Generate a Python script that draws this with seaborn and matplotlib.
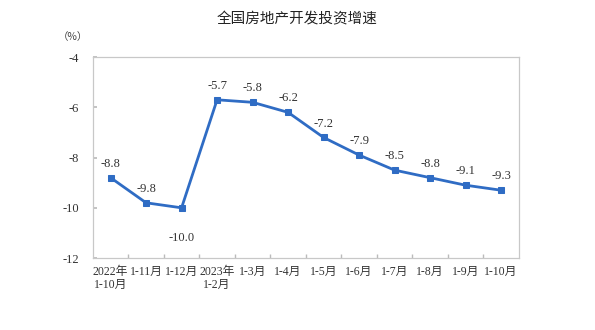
import matplotlib
matplotlib.use("Agg")
import matplotlib.pyplot as plt
import seaborn as sns
import pandas as pd

categories = ["2022年\n1-10月", "1-11月", "1-12月", "2023年\n1-2月", "1-3月", "1-4月",
              "1-5月", "1-6月", "1-7月", "1-8月", "1-9月", "1-10月"]
values = [-8.8, -9.8, -10.0, -5.7, -5.8, -6.2, -7.2, -7.9, -8.5, -8.8, -9.1, -9.3]
yticks = [-12, -10, -8, -6, -4]

sns.set_theme(style="white")
plt.rcParams['font.family'] = ['Liberation Serif', 'Noto Sans CJK SC', 'DejaVu Sans']

df = pd.DataFrame({"x": range(len(categories)), "v": values})

fig = plt.figure(figsize=(5.95, 3.3), dpi=100)
ax = fig.add_axes([0.156, 0.218, 0.716, 0.609])
color = "#2f6cc4"
sns.lineplot(data=df, x="x", y="v", ax=ax, color=color, linewidth=2.0,
             marker="s", markersize=4.5, markeredgecolor=color, markerfacecolor=color)

for i, v in enumerate(values):
    if i == 2:
        ax.annotate(f"{v:.1f}", (i, v), xytext=(0, -22), textcoords="offset points",
                    ha="center", va="center", fontsize=9, color="#333333")
    else:
        ax.annotate(f"{v:.1f}", (i, v), xytext=(0, 10), textcoords="offset points",
                    ha="center", va="center", fontsize=9, color="#333333")

ax.set_xlim(-0.5, len(categories) - 0.5)
ax.set_ylim(-12, -4)
ax.set_yticks(yticks)
ax.set_yticklabels([str(t) for t in yticks], fontsize=9, color="#333333")
ax.set_xticks(range(len(categories)))
ax.set_xticklabels(categories, fontsize=8.5, color="#333333", linespacing=1.1)
ax.set_xticks([i + 0.5 for i in range(len(categories) - 1)], minor=True)
ax.tick_params(axis="x", which="major", length=0, pad=6)
ax.tick_params(axis="x", which="minor", direction="in", length=3, color="#bbbbbb", bottom=True)
ax.tick_params(axis="y", direction="in", length=3, color="#bbbbbb", left=True, pad=10)
ax.set_xlabel("")
ax.set_ylabel("")
for s in ax.spines.values():
    s.set_color("#c8c8c8")
    s.set_linewidth(0.9)
ax.grid(False)

fig.text(0.5, 0.94, "全国房地产开发投资增速", ha="center", va="center", fontsize=10.5,
         family=['Noto Sans CJK SC', 'DejaVu Sans'], color="#222222", fontweight="medium")
fig.text(0.122, 0.887, "（%）", ha="center", va="center", fontsize=7.5, color="#444444",
         family=['Noto Sans CJK SC', 'DejaVu Sans'])

fig.savefig("out.png", dpi=100)
